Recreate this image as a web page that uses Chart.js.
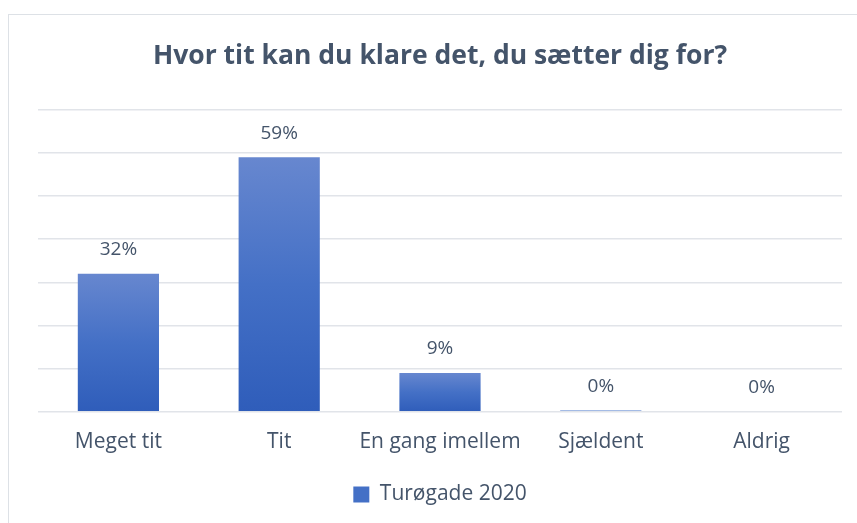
<!DOCTYPE html>
<html>
<head>
<meta charset="utf-8">
<script src="https://cdn.jsdelivr.net/npm/chart.js@4"></script>
<style>
  html, body { margin: 0; padding: 0; background: #fff; }
  #wrap { position: relative; width: 857px; height: 523px; overflow: hidden; }
  #frame { position: absolute; left: 8px; top: 14px; width: 900px; height: 600px; border: 1.5px solid #dde1e6; box-sizing: border-box; }
  canvas { position: absolute; left: 0; top: 0; }
</style>
</head>
<body>
<div id="wrap">
  <div id="frame"></div>
  <canvas id="chart" width="857" height="523"></canvas>
</div>
<script>
const categories = ['Meget tit', 'Tit', 'En gang imellem', 'Sjældent', 'Aldrig']
const values = [32, 59, 9, 0.3, 0]
const seriesName = 'Turøgade 2020'
const titleText = 'Hvor tit kan du klare det, du sætter dig for?'

const textColor = '#44546a'

// gradient per bar, lighter at the top
const barFill = ctx => {
  const chart = ctx.chart
  if (!chart.chartArea || ctx.type !== 'data') return '#4472c4'
  const y = chart.scales.y
  const top = y.getPixelForValue(ctx.raw)
  const base = y.getPixelForValue(0)
  if (base - top < 2) return '#4a78cc'
  const g = chart.ctx.createLinearGradient(0, top, 0, base)
  g.addColorStop(0, '#6787cf')
  g.addColorStop(0.5, '#4470c6')
  g.addColorStop(1, '#2f5dba')
  return g
}

const valueLabels = {
  id: 'valueLabels',
  afterDatasetsDraw(chart) {
    const c = chart.ctx
    const meta = chart.getDatasetMeta(0)
    c.save()
    c.font = '19px "Open Sans", sans-serif'
    c.fillStyle = textColor
    c.textAlign = 'center'
    c.textBaseline = 'middle'
    meta.data.forEach((bar, i) => {
      c.fillText(Math.round(values[i]) + '%', bar.x, bar.y - 24)
    })
    c.restore()
  }
}

new Chart('chart', {
  type: 'bar',
  data: {
    labels: categories,
    datasets: [{
      label: seriesName,
      data: values,
      backgroundColor: barFill,
      categoryPercentage: 1,
      barPercentage: 0.505
    }]
  },
  options: {
    responsive: false,
    animation: false,
    layout: { padding: { left: 38, right: 15, top: 28, bottom: 8 } },
    scales: {
      x: {
        grid: { display: false },
        border: { display: false },
        afterFit: s => { s.height += 3 },
        ticks: {
          color: textColor,
          font: { size: 21, family: '"Open Sans", sans-serif' },
          padding: 10,
          maxRotation: 0,
          minRotation: 0,
          autoSkip: false
        }
      },
      y: {
        min: 0,
        max: 70,
        ticks: { stepSize: 10, display: false },
        grid: { color: '#e1e4e9', lineWidth: 1.5, drawTicks: false },
        border: { display: false }
      }
    },
    plugins: {
      title: {
        display: true,
        text: titleText,
        color: textColor,
        font: { size: 26.5, weight: 'bold', family: '"Open Sans", sans-serif' },
        padding: { top: 13, bottom: 37 }
      },
      legend: {
        position: 'bottom',
        labels: {
          color: textColor,
          font: { size: 21, family: '"Open Sans", sans-serif' },
          boxWidth: 16,
          boxHeight: 16,
          padding: 16,
          generateLabels: () => [{ text: seriesName, fillStyle: '#4470c6', strokeStyle: '#4470c6', lineWidth: 0, fontColor: textColor }]
        }
      },
      tooltip: { enabled: false }
    }
  },
  plugins: [valueLabels]
})
</script>
</body>
</html>
